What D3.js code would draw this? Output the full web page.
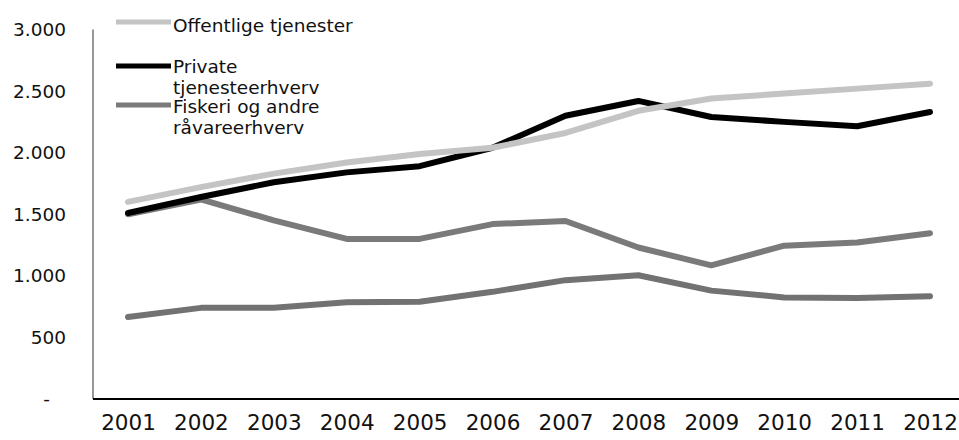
<!DOCTYPE html>
<html>
<head>
<meta charset="utf-8">
<script src="https://cdn.jsdelivr.net/npm/d3@7"></script>
<style>
  body { margin: 0; background: #fff; }
  svg { display: block; font-family: "DejaVu Sans", Verdana, sans-serif; }
</style>
</head>
<body>
<svg id="chart"></svg>
<script>
// data
const years = ["2001","2002","2003","2004","2005","2006","2007","2008","2009","2010","2011","2012"];
const offentlige = [1600,1720,1830,1920,1990,2040,2160,2340,2440,2480,2520,2560];
const private_ = [1510,1640,1760,1840,1890,2040,2300,2420,2290,2250,2215,2330];
const fiskeri = [1500,1620,1450,1300,1300,1420,1445,1230,1085,1245,1270,1345];
const fjerde = [665,740,740,785,790,870,965,1005,880,825,820,835];
const yTicks = [0,500,1000,1500,2000,2500,3000];

const series = [
  {name: "Offentlige tjenester", lines: ["Offentlige tjenester"], values: offentlige, color: "#c4c4c4", width: 6},
  {name: "Private tjenesteerhverv", lines: ["Private", "tjenesteerhverv"], values: private_, color: "#000000", width: 6},
  {name: "Fiskeri og andre råvareerhverv", lines: ["Fiskeri og andre", "råvareerhverv"], values: fiskeri, color: "#7a7a7a", width: 6},
  {name: "", lines: [], values: fjerde, color: "#727272", width: 6}
];

const W = 959, H = 440;
const MARGIN = {left: 93, top: 29.5, bottom: 41};

const svg = d3.select('#chart').attr('width', W).attr('height', H);

const x = d3.scalePoint()
  .domain(years)
  .range([128, 930]);
const y = d3.scaleLinear()
  .domain([0, 3000])
  .range([H - MARGIN.bottom, MARGIN.top]);

const fmt = v => v === 0 ? "-" : d3.format(",")(v).replace(/,/g, ".");

// y axis
const yAxis = svg.append('g')
  .attr('transform', `translate(${MARGIN.left},0)`)
  .call(d3.axisLeft(y).tickValues(yTicks).tickFormat(fmt).tickSize(0).tickPadding(27));
yAxis.select('.domain').attr('stroke', '#333').attr('stroke-width', 1)
  .attr('d', `M0,${y(3000)}V${y(0)}`);
yAxis.selectAll('text').attr('font-size', '18.5px').attr('fill', '#111')
  .attr('font-family', '"DejaVu Sans", Verdana, sans-serif')
  .attr('dx', d => d === 0 ? -16 : 0);

// x axis
const xAxis = svg.append('g')
  .attr('transform', `translate(0,${y(0)})`)
  .call(d3.axisBottom(x).tickSize(0).tickPadding(16));
xAxis.select('.domain').attr('stroke', '#000').attr('stroke-width', 2)
  .attr('d', `M${MARGIN.left},0H${W}`);
xAxis.selectAll('text').attr('font-size', '21.5px').attr('fill', '#111')
  .attr('font-family', '"DejaVu Sans", Verdana, sans-serif');

// lines
const line = d3.line()
  .x((d, i) => x(years[i]))
  .y(d => y(d));

svg.append('g').selectAll('path')
  .data(series.slice().reverse())
  .join('path')
  .attr('d', d => line(d.values))
  .attr('fill', 'none')
  .attr('stroke', d => d.color)
  .attr('stroke-width', d => d.width)
  .attr('stroke-linejoin', 'round')
  .attr('stroke-linecap', 'round');

// legend
const sampleY = [22, 66, 105];
const textY = [32, 73, 113];
const legend = svg.append('g');
series.filter(s => s.lines.length).forEach((s, i) => {
  legend.append('line')
    .attr('x1', 116).attr('x2', 171)
    .attr('y1', sampleY[i]).attr('y2', sampleY[i])
    .attr('stroke', s.color).attr('stroke-width', 5);
  const t = legend.append('text')
    .attr('x', 173).attr('y', textY[i])
    .attr('font-size', '18.5px').attr('fill', '#111');
  s.lines.forEach((l, j) => {
    t.append('tspan').attr('x', 173).attr('dy', j === 0 ? 0 : 21).text(l);
  });
});
</script>
</body>
</html>
